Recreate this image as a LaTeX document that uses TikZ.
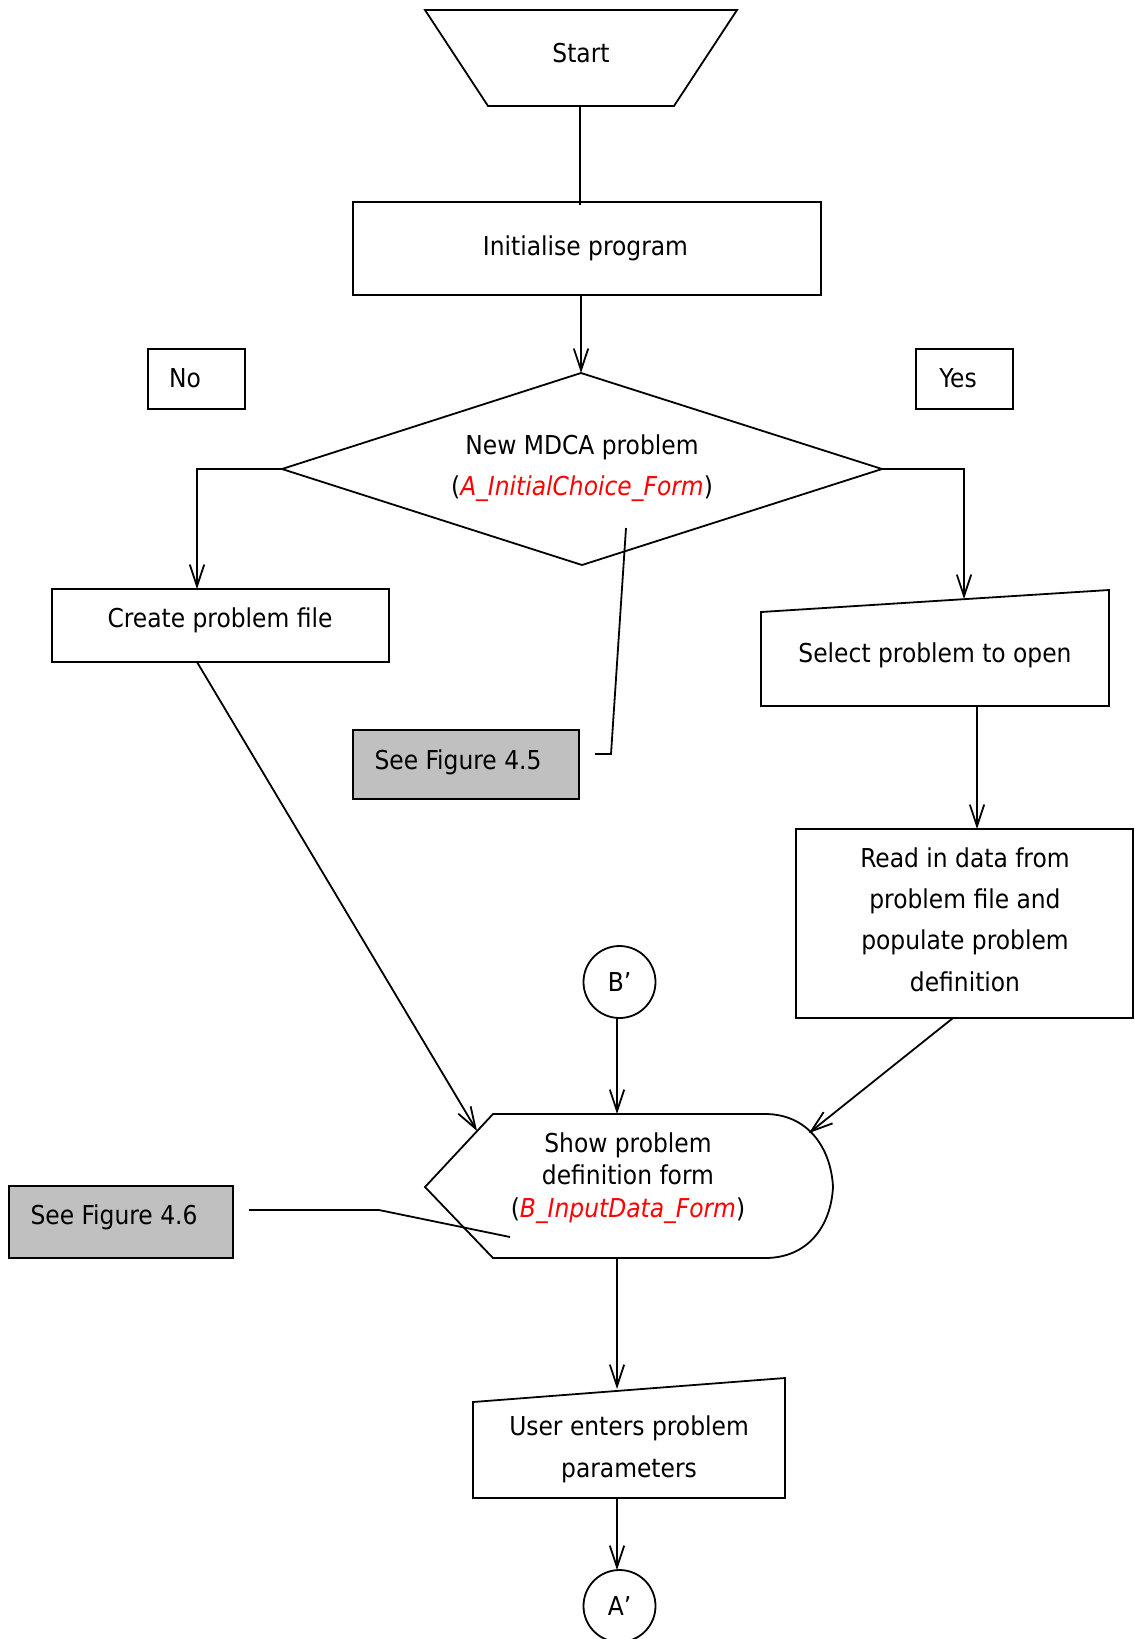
\documentclass[tikz,border=0pt]{standalone}
\usepackage{fontspec}
\setmainfont{DejaVu Sans Condensed}[ItalicFont={DejaVu Sans Condensed Oblique}]
\usetikzlibrary{arrows.meta}
\definecolor{notegray}{HTML}{C0C0C0}
\definecolor{formred}{HTML}{FF0000}
\newcommand{\formname}[1]{\textcolor{formred}{\itshape #1}}

\begin{document}
\begin{tikzpicture}[x=0.5pt, y=-0.5pt, line width=0.9pt,
  font=\fontsize{13pt}{16pt}\selectfont,
  boxnode/.style={draw, rectangle, inner sep=0pt, outer sep=0pt},
  notebox/.style={boxnode, fill=notegray},
  conn/.style={draw, circle, minimum size=36pt, inner sep=0pt, outer sep=0pt},
  lbl/.style={anchor=base, inner sep=0pt, align=center},
  arr/.style={-{Straight Barb[length=10.8pt,width=7.2pt]}}]

\useasboundingbox (0,0) rectangle (1135,1639);

% Multi-line labels are placed by the baseline of their last line.

% ---- start terminator ----
\draw (425,10) -- (737,10) -- (674,106) -- (488,106) -- cycle;
\node[lbl] (startT) at (581,62.5) {Start};
\coordinate (startB) at (580,106);

% ---- initialise ----
\node[boxnode, minimum width=234pt, minimum height=46.5pt] (init) at (587,248.5) {};
\node[lbl] (initT) at (585.5,255) {Initialise program};
\coordinate (initIn) at (580,205);
\draw (startB) -- (initIn);

% ---- decision ----
\coordinate (dT) at (581,373);
\coordinate (dR) at (882,469);
\coordinate (dB) at (582,565);
\coordinate (dL) at (282,469);
\draw (dT) -- (dR) -- (dB) -- (dL) -- cycle;
\node[lbl, font=\fontsize{13pt}{20.5pt}\selectfont] (decT) at (582,495)
  {New MDCA problem\\(\formname{A\_InitialChoice\_Form})};
\draw[arr] (init.south -| dT) -- (dT);

% ---- branch labels ----
\node[boxnode, minimum width=48.5pt, minimum height=30pt] (noBox) at (196.5,379) {};
\node[lbl] (noT) at (185,387) {No};
\node[boxnode, minimum width=48.5pt, minimum height=30pt] (yesBox) at (964.5,379) {};
\node[lbl] (yesT) at (958,387) {Yes};

% ---- create problem file ----
\node[boxnode, minimum width=168.5pt, minimum height=36.5pt] (create) at (220.5,625.5) {};
\node[lbl] (createT) at (220,627) {Create problem file};
\coordinate (createIn) at (197,589);
\draw[arr] (dL) -| (createIn);

% ---- select problem (manual input) ----
\draw (761,612) -- (1109,590) -- (1109,706) -- (761,706) -- cycle;
\node[lbl] (selT) at (935,662) {Select problem to open};
\coordinate (selIn) at (964,599);
\coordinate (selOut) at (977,706);
\draw[arr] (dR) -| (selIn);

% ---- read data ----
\node[boxnode, minimum width=168.5pt, minimum height=94.5pt] (read) at (964.5,923.5) {};
\node[lbl, font=\fontsize{13pt}{20.65pt}\selectfont] (readT) at (965,991)
  {Read in data from\\problem file and\\populate problem\\definition};
\draw[arr] (selOut) -- (selOut |- read.north);

% ---- note: Figure 4.5 ----
\node[notebox, minimum width=113pt, minimum height=34.5pt] (fig45) at (466,764.5) {};
\node[lbl] (fig45T) at (458,769) {See Figure 4.5};
\coordinate (decNote) at (626,528);
\draw ([shift={(16,-10.5)}]fig45.east) -- ++(16,0) -- (decNote);

% ---- connector B' ----
\node[conn] (bp) at (619.5,982) {B’};

% ---- show problem definition form (display) ----
\draw (493,1114) -- (765,1114)
  .. controls (808,1114) and (831,1148) .. (833,1187)
  .. controls (831,1226) and (808,1258) .. (765,1258)
  -- (493,1258) -- (425,1187) -- cycle;
\node[lbl, font=\fontsize{13pt}{16.25pt}\selectfont] (showT) at (628,1217)
  {Show problem\\definition form\\(\formname{B\_InputData\_Form})};
\coordinate (showIn) at (617,1114);
\coordinate (showInL) at (477,1131);
\coordinate (showInR) at (809,1133);
\coordinate (showOut) at (617,1258);
\coordinate (showNote) at (510,1237);
\draw[arr] (bp.south -| showIn) -- (showIn);
\draw[arr] ([xshift=-11.75pt]create.south) -- (showInL);
\draw[arr] ([xshift=-5.75pt]read.south) -- (showInR);

% ---- note: Figure 4.6 ----
\node[notebox, minimum width=112pt, minimum height=36pt] (fig46) at (121,1222) {};
\node[lbl] (fig46T) at (114,1224) {See Figure 4.6};
\draw ([shift={(16,-12)}]fig46.east) -- ++(130,0) -- (showNote);

% ---- user enters parameters (manual input) ----
\draw (473,1402) -- (785,1378) -- (785,1498) -- (473,1498) -- cycle;
\node[lbl, font=\fontsize{13pt}{21pt}\selectfont] (userT) at (629,1477)
  {User enters problem\\parameters};
\coordinate (userIn) at (617,1389);
\coordinate (userOut) at (617,1498);
\draw[arr] (showOut) -- (userIn);

% ---- connector A' ----
\node[conn] (ap) at (619.5,1606) {A’};
\draw[arr] (userOut) -- (userOut |- ap.north);

\end{tikzpicture}
\end{document}
